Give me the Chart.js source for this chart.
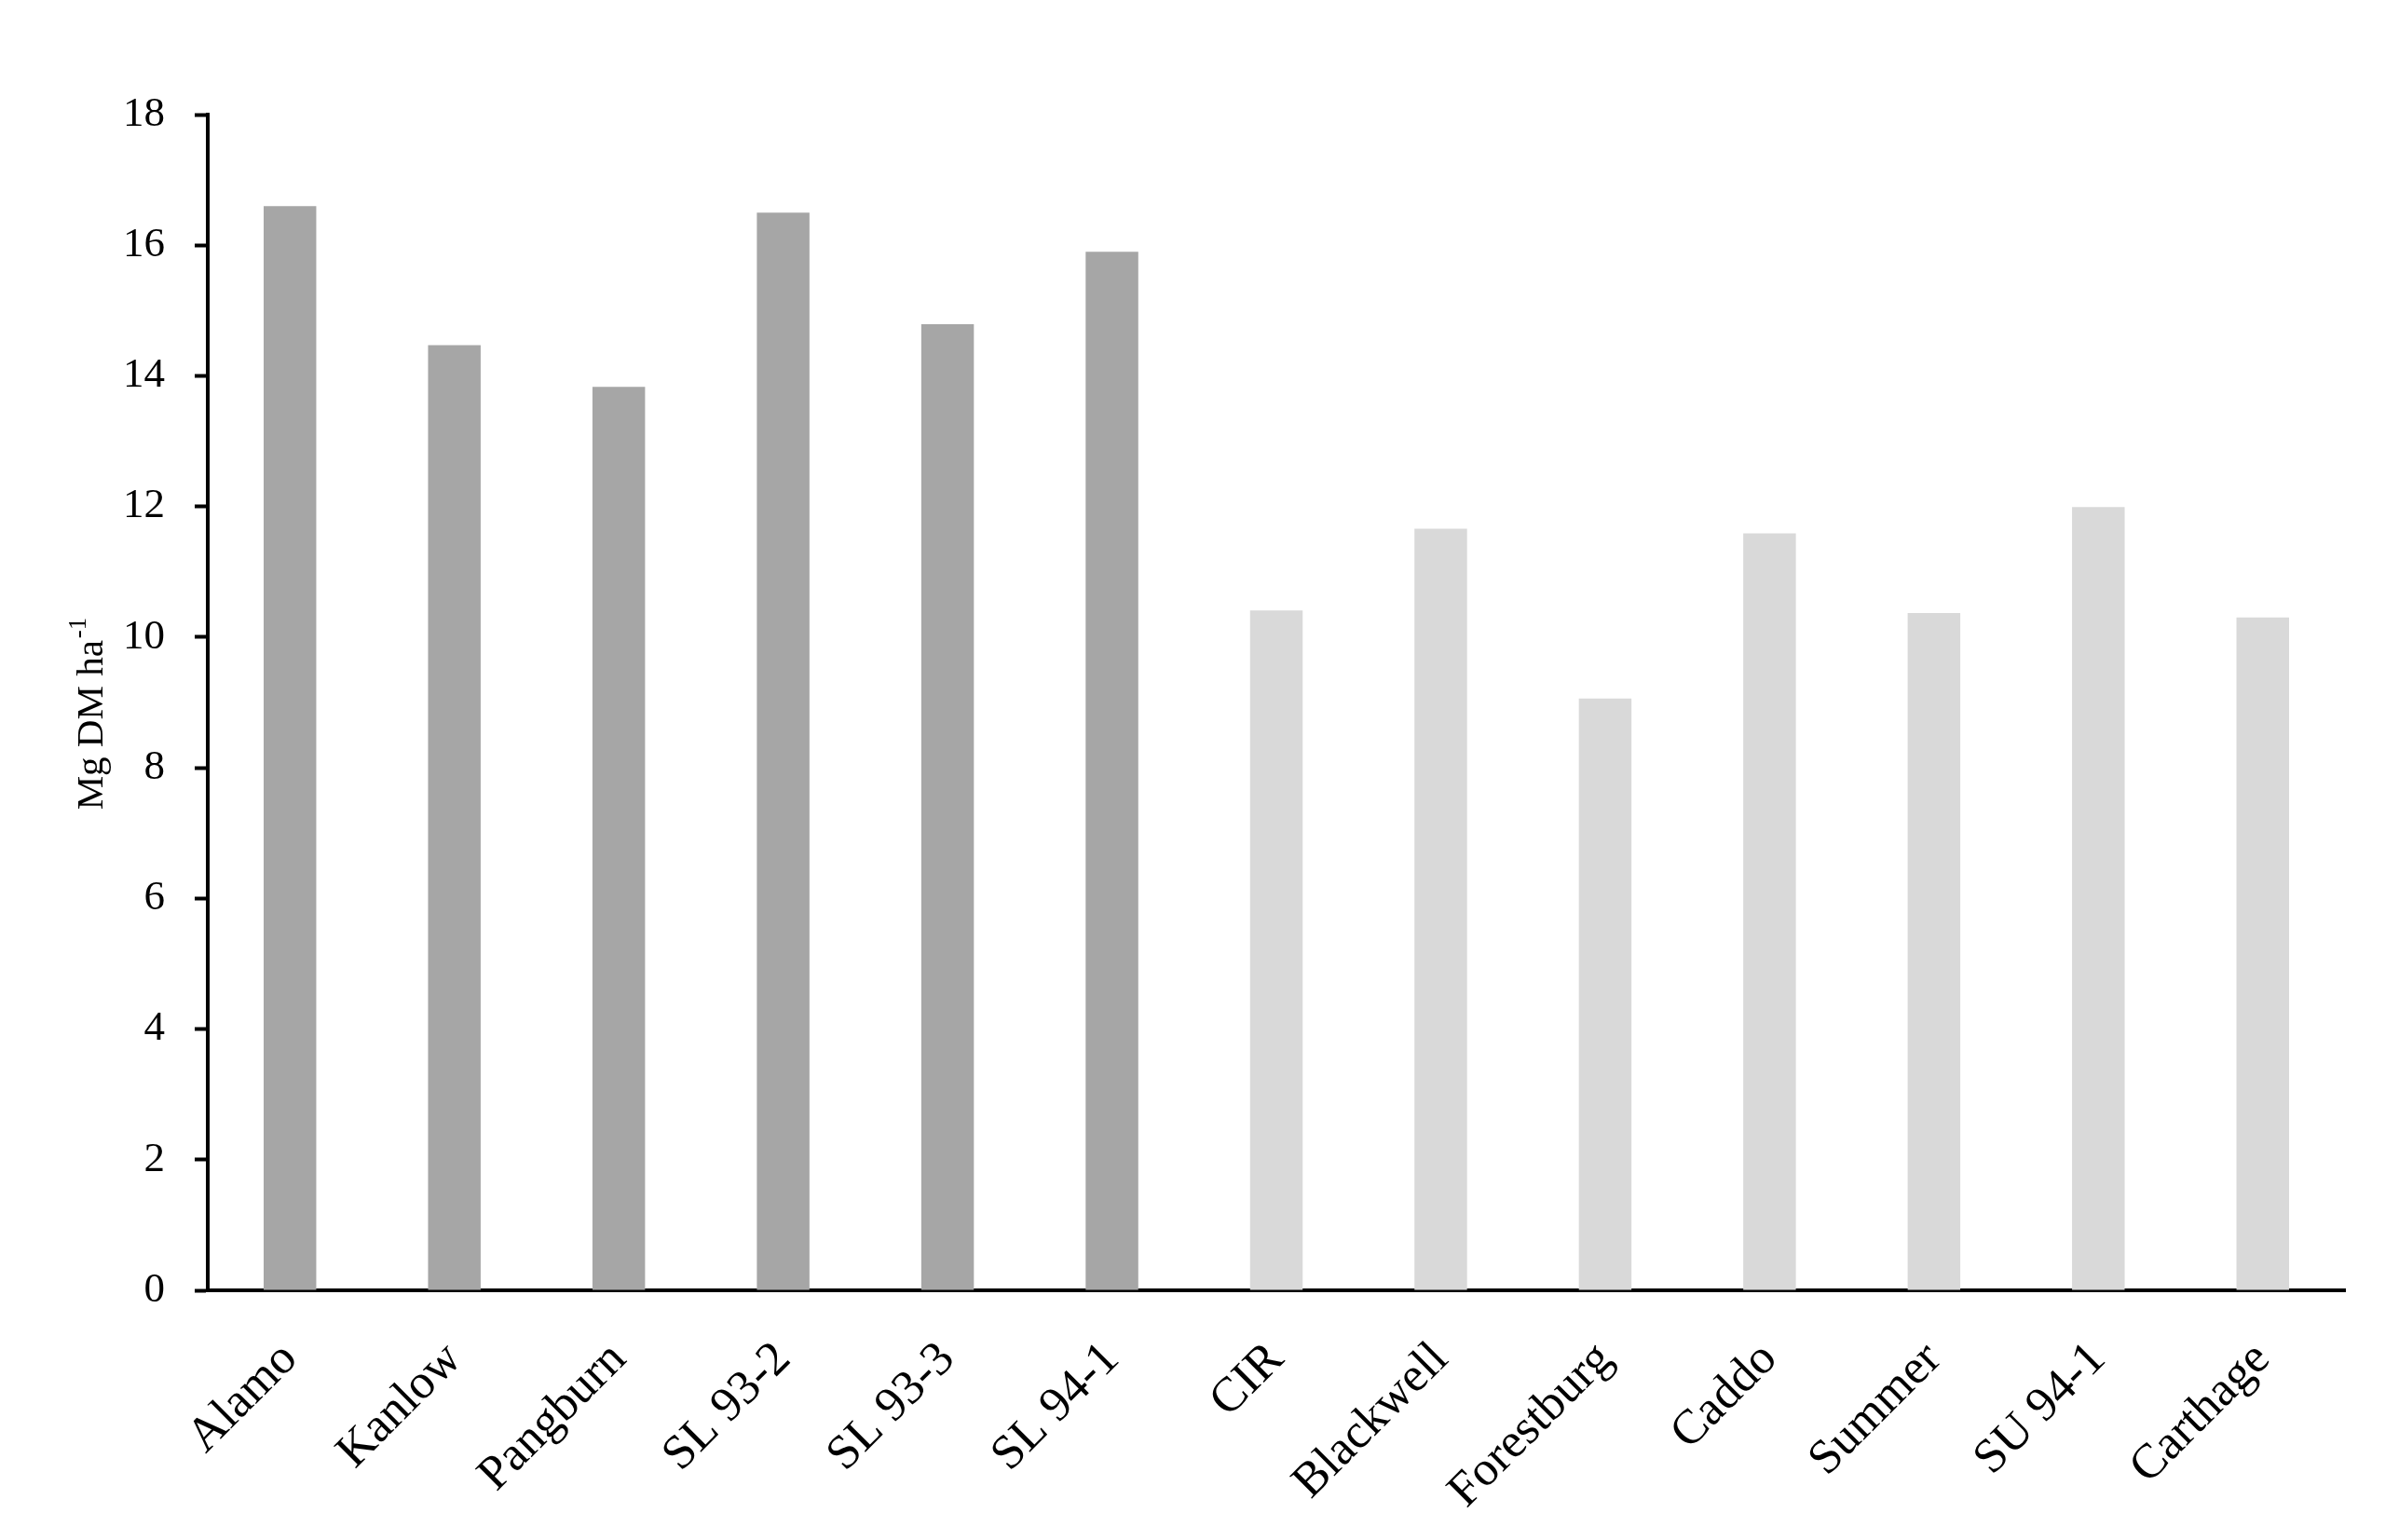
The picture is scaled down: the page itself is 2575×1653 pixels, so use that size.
<!DOCTYPE html>
<html>
<head>
<meta charset="utf-8">
<script src="https://cdn.jsdelivr.net/npm/chart.js@4/dist/chart.umd.min.js"></script>
<style>
  html, body { margin: 0; padding: 0; background: #ffffff; }
  #wrap { width: 2575px; height: 1653px; }
</style>
</head>
<body>
<div id="wrap"><canvas id="c" width="2575" height="1653"></canvas></div>
<script>
const categories = ['Alamo', 'Kanlow', 'Pangburn', 'SL 93-2', 'SL 93-3', 'SL 94-1', 'CIR', 'Blackwell', 'Forestburg', 'Caddo', 'Summer', 'SU 94-1', 'Carthage'];
const yieldValues = [16.6, 14.47, 13.83, 16.5, 14.79, 15.9, 10.41, 11.66, 9.06, 11.59, 10.37, 11.99, 10.3];
const ecotype = ['lowland', 'lowland', 'lowland', 'lowland', 'lowland', 'lowland', 'upland', 'upland', 'upland', 'upland', 'upland', 'upland', 'upland'];
const yTicks = [0, 2, 4, 6, 8, 10, 12, 14, 16, 18];
const yTitleMain = 'Mg DM ha';
const yTitleSup = '-1';

const FONT = '"Liberation Serif", "DejaVu Serif", serif';
const colorFor = { lowland: '#a6a6a6', upland: '#d9d9d9' };

const yTitlePlugin = {
  id: 'yTitle',
  afterDraw(chart) {
    const ctx = chart.ctx;
    const area = chart.chartArea;
    const cy = (area.top + area.bottom) / 2 + 12;
    const cx = 99;
    ctx.save();
    ctx.translate(cx, cy);
    ctx.rotate(-Math.PI / 2);
    ctx.fillStyle = '#000';
    ctx.textBaseline = 'middle';
    const mainFont = '41px ' + FONT;
    const supFont = '27px ' + FONT;
    ctx.font = mainFont;
    const w1 = ctx.measureText(yTitleMain).width;
    ctx.font = supFont;
    const w2 = ctx.measureText(yTitleSup).width;
    const total = w1 + w2 + 2;
    ctx.font = mainFont;
    ctx.textAlign = 'left';
    ctx.fillText(yTitleMain, -total / 2, 0);
    ctx.font = supFont;
    ctx.fillText(yTitleSup, -total / 2 + w1 + 2, -14);
    ctx.restore();
  }
};

new Chart(document.getElementById('c'), {
  type: 'bar',
  data: {
    labels: categories,
    datasets: [{
      data: yieldValues,
      backgroundColor: ecotype.map(e => colorFor[e]),
      borderWidth: 0,
      barPercentage: 0.32,
      categoryPercentage: 1.0
    }]
  },
  options: {
    responsive: false,
    devicePixelRatio: 1,
    animation: false,
    layout: { padding: { top: 123, right: 58, bottom: 0, left: 0 } },
    plugins: {
      legend: { display: false },
      tooltip: { enabled: false },
      title: { display: false }
    },
    scales: {
      x: {
        offset: true,
        grid: { display: true, drawOnChartArea: false, drawTicks: false, color: '#000' },
        border: { display: true, color: '#000', width: 4 },
        ticks: {
          minRotation: 45,
          maxRotation: 45,
          autoSkip: false,
          padding: 44,
          color: '#000',
          font: { family: FONT, size: 52 }
        },
        afterFit(scale) { scale.height = 268; }
      },
      y: {
        min: 0,
        max: 18,
        afterBuildTicks(scale) { scale.ticks = yTicks.map(v => ({ value: v })); },
        grid: { display: true, drawOnChartArea: false, drawTicks: true, tickLength: 14, tickWidth: 4, color: '#000' },
        border: { display: true, color: '#000', width: 4 },
        ticks: {
          padding: 32,
          color: '#000',
          font: { family: FONT, size: 45 }
        },
        afterFit(scale) { scale.width = 223; }
      }
    }
  },
  plugins: [yTitlePlugin]
});
</script>
</body>
</html>
